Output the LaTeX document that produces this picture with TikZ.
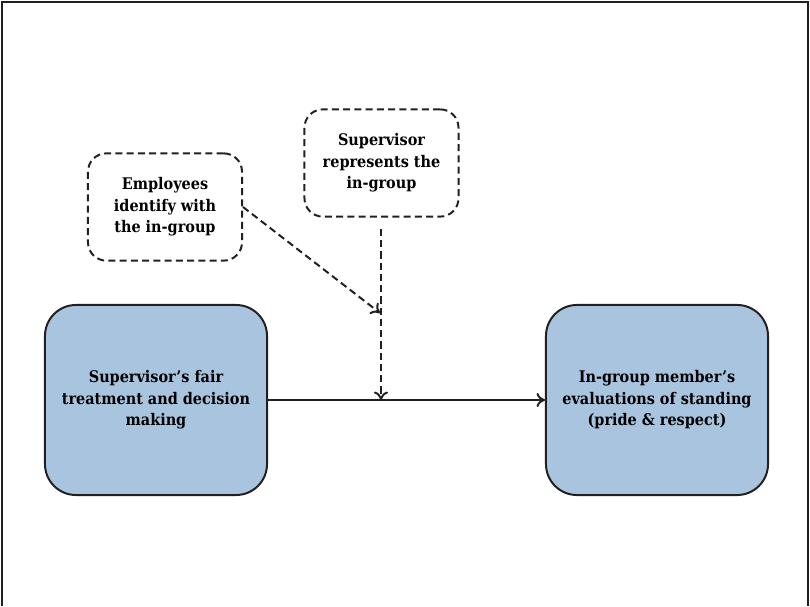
\documentclass[tikz,border=0pt]{standalone}
\usepackage{fontspec}
\setmainfont{DejaVu Serif Condensed}
\usetikzlibrary{arrows.meta}
\definecolor{boxblue}{RGB}{169,196,222}
\definecolor{inkdark}{RGB}{35,31,32}
\begin{document}
\begin{tikzpicture}
[x=0.025cm,y=0.025cm,
  solidbox/.style={shape=rectangle,rounded corners=22pt,draw=inkdark,line width=1.4pt,
    fill=boxblue,minimum width=5.55cm,minimum height=4.75cm,align=center,
    font=\fontsize{11.4}{15.3}\selectfont\bfseries},
  dashbox/.style={shape=rectangle,rounded corners=13pt,draw=inkdark,line width=1.4pt,
    dash pattern=on 5pt off 3pt,minimum width=3.85cm,minimum height=2.68cm,align=center,
    font=\fontsize{11.4}{15.3}\selectfont\bfseries},
  linedecorate/.style={-{To[length=6pt,width=10pt]},line width=1.4pt,draw=inkdark},
  dashline/.style={linedecorate,dash pattern=on 5pt off 3pt}]
\useasboundingbox (0,0) rectangle (810,606);
% frame
\draw[inkdark,line width=1.4pt] (2,0) -- (2,604) -- (808,604) -- (808,0);
% boxes
\node (fair) at (156,206) [solidbox] {Supervisor’s fair\\treatment and decision\\making};
\node (eval) at (657,206) [solidbox] {In-group member’s\\evaluations of standing\\(pride \& respect)};
\node (ident) at (165,399) [dashbox] {Employees\\identify with\\the in-group};
\node (repr) at (381.5,443) [dashbox] {Supervisor\\represents the\\in-group};
% points on the paths
\coordinate (top) at (381,377);
\coordinate (meet) at (381,206);
\coordinate (hit) at (380,293);
% arrows
\path
(fair) edge[linedecorate] (eval)
(top) edge[dashline] (meet)
(ident.east) edge[dashline] (hit);
\end{tikzpicture}
\end{document}
